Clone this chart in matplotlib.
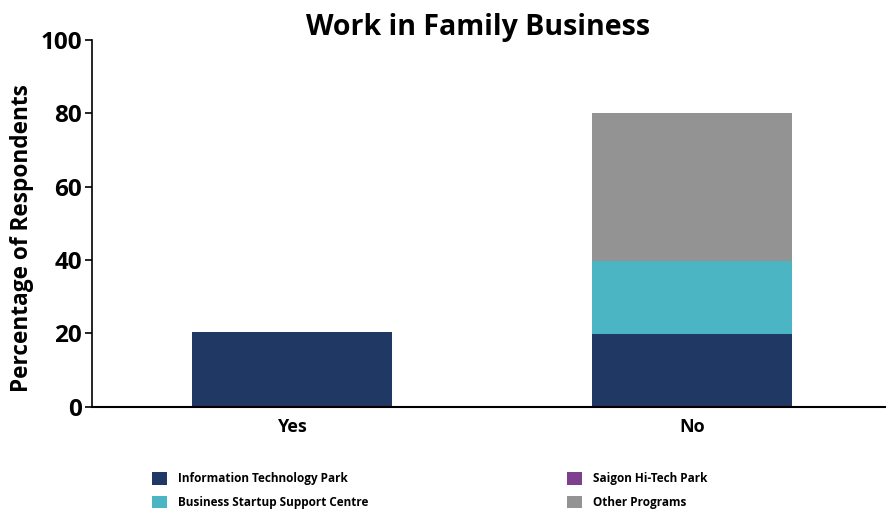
import matplotlib
matplotlib.use("Agg")
import matplotlib.pyplot as plt
from matplotlib.patches import Patch

plt.rcParams['font.family'] = ['Open Sans', 'DejaVu Sans']
plt.rcParams['font.weight'] = 'bold'

categories = ["Yes", "No"]
series_names = [
    "Information Technology Park",
    "Business Startup Support Centre",
    "Saigon Hi-Tech Park",
    "Other Programs",
]
it_park = [20.2, 19.8]
startup_centre = [0.0, 19.8]
saigon_hitech = [0.0, 0.0]
other_programs = [0.0, 40.4]
colors = ["#203864", "#4BB5C3", "#7E3F8F", "#939393"]

fig = plt.figure(figsize=(8.86, 5.14), dpi=100)
ax = fig.add_axes([92 / 886, 1 - 406.5 / 514, 800 / 886, 366.5 / 514])

x = list(range(len(categories)))
bottom = [0.0] * len(categories)
for vals, col in zip([it_park, startup_centre, saigon_hitech, other_programs], colors):
    ax.bar(x, vals, width=0.5, bottom=bottom, color=col, linewidth=0)
    bottom = [b + v for b, v in zip(bottom, vals)]

ax.set_xlim(-0.5, 1.5)
ax.set_ylim(0, 100)
ax.set_yticks([0, 20, 40, 60, 80, 100])
ax.set_xticks(x)
ax.set_xticklabels(categories, fontsize=13, fontweight='bold')
ax.tick_params(axis='y', labelsize=17.5, length=5, width=1.2, direction='out', pad=2)
ax.tick_params(axis='x', length=0, pad=8)
for lbl in ax.get_yticklabels():
    lbl.set_fontweight('bold')
ax.spines['top'].set_visible(False)
ax.spines['right'].set_visible(False)
ax.spines['left'].set_linewidth(1.2)
ax.spines['bottom'].set_linewidth(1.5)

ax.set_ylabel("Percentage of Respondents", fontsize=16.3, fontweight='bold')
ax.yaxis.set_label_coords(-0.073, 0.46)
fig.text(478 / 886, 1 - 27 / 514, "Work in Family Business", ha='center', va='center',
         fontsize=20.5, fontweight='bold')

handles = [Patch(facecolor=c, edgecolor='none') for c in colors]
fig.legend(handles, series_names, loc='center left', bbox_to_anchor=(141 / 886, 1 - 490.5 / 514),
           ncol=2, frameon=False, columnspacing=16.8, handlelength=1.3,
           handleheight=1.3, handletextpad=0.95, labelspacing=0.85,
           prop={'weight': 'bold', 'size': 8.5})

fig.savefig("out.png", dpi=100)
